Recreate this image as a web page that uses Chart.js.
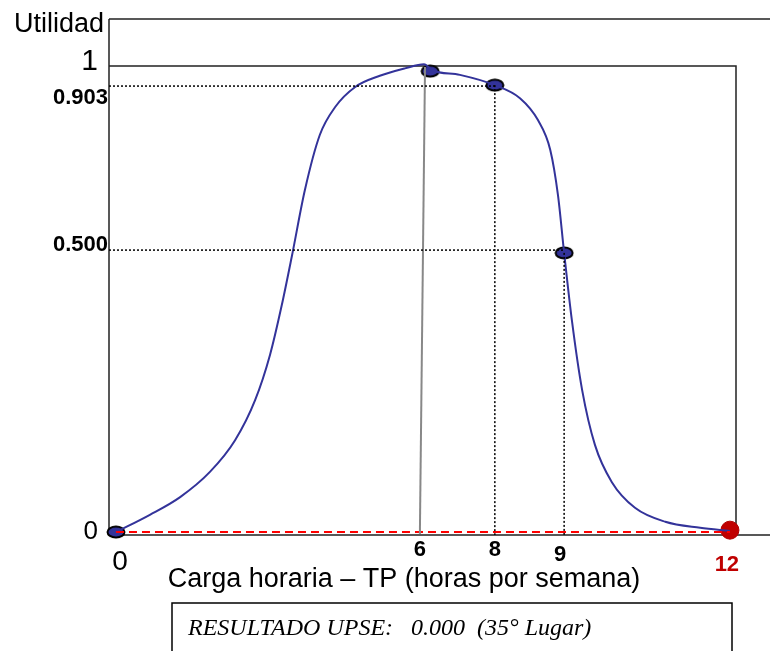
<!DOCTYPE html>
<html>
<head>
<meta charset="utf-8">
<script src="https://cdn.jsdelivr.net/npm/chart.js"></script>
<style>
  body { margin: 0; background: #fff; }
  canvas { display: block; }
</style>
</head>
<body>
<canvas id="utilChart" width="770" height="651"></canvas>
<script>
// curve (x in picture axis units, y utility units)
const curveX = [0, 0.66, 1.25, 1.83, 2.32, 2.71, 3.0, 3.23, 3.43, 3.68, 3.97, 4.27, 4.66, 5.14, 5.63, 6.0,
                6.16, 6.7, 7.38, 7.87, 8.22, 8.46, 8.61, 8.73, 8.88, 9.08, 9.33, 9.66, 10.11, 10.7, 11.38, 11.96];
const curveY = [0, 0.037, 0.075, 0.129, 0.197, 0.283, 0.38, 0.487, 0.594, 0.734, 0.852, 0.912, 0.955, 0.979, 0.995, 1.004,
                0.991, 0.981, 0.959, 0.931, 0.884, 0.82, 0.723, 0.599, 0.455, 0.305, 0.187, 0.107, 0.052, 0.022, 0.009, 0.002];

// marked points on the curve
const markX = [0, 6.12, 7.38, 8.73];
const markY = [0, 0.989, 0.959, 0.599];

// result point (UPSE)
const resultX = [11.96];
const resultY = [0.004];

// tick labels and where they sit on the axes
const xTickLabels = ['0', '6', '8', '9', '12'];
const xTickPos = [0.08, 5.92, 7.38, 8.65, 11.9];
const yTickLabels = ['0', '0.500', '0.903', '1'];
const yTickPos = [0, 0.616, 0.931, 1.009];

// guide lines
const peakLineX = [5.92, 6.02];
const peakLineY = [-0.004, 0.998];
const guide903 = 0.957;
const guide500 = 0.605;

const pts = (xs, ys) => xs.map((x, i) => ({ x: x, y: ys[i] }));

const ell = document.createElement('canvas');
ell.width = 20; ell.height = 14;
const ec = ell.getContext('2d');
ec.beginPath();
ec.ellipse(10, 7, 8.5, 5.5, 0, 0, Math.PI * 2);
ec.fillStyle = '#33339a';
ec.fill();
ec.lineWidth = 2;
ec.strokeStyle = '#000';
ec.stroke();

const dotted = { borderColor: '#000', borderWidth: 1.5, borderDash: [2, 2], pointRadius: 0, fill: false };
const sans = '"Liberation Sans", Arial';

const framePlugin = {
  id: 'frame',
  beforeDatasetsDraw(chart) {
    const c = chart.ctx, x = chart.scales.x, y = chart.scales.y;
    const L = x.getPixelForValue(-0.136), R = x.getPixelForValue(12.078);
    const T = y.getPixelForValue(1.1009), B = y.getPixelForValue(-0.0064);
    const one = y.getPixelForValue(1);
    c.save();
    c.strokeStyle = '#222';
    c.lineWidth = 1.5;
    c.beginPath();
    c.moveTo(L, T); c.lineTo(770, T);
    c.moveTo(L, T); c.lineTo(L, B); c.lineTo(770, B);
    c.moveTo(L, one); c.lineTo(R, one); c.lineTo(R, B);
    c.stroke();
    c.restore();
  },
  afterDatasetsDraw(chart) {
    const c = chart.ctx, x = chart.scales.x, y = chart.scales.y;
    c.save();
    c.fillStyle = '#000';
    c.textBaseline = 'middle';
    // y axis
    c.textAlign = 'right';
    c.font = '27px ' + sans;
    c.fillText('Utilidad', 104, 25);
    yTickLabels.forEach((t, i) => {
      const py = y.getPixelForValue(yTickPos[i]);
      if (t.length > 1) {
        c.font = 'bold 22px ' + sans;
        c.fillText(t, 108, py);
      } else {
        c.font = (t === '1' ? '30px ' : '26px ') + sans;
        c.fillText(t, 98, py);
      }
    });
    // x axis
    c.textAlign = 'center';
    xTickLabels.forEach((t, i) => {
      const px = x.getPixelForValue(xTickPos[i]);
      if (t === '0') {
        c.font = '28px ' + sans;
        c.fillText(t, px, 562);
      } else if (t === '12') {
        c.font = 'bold 22px ' + sans;
        c.fillStyle = '#c00000';
        c.fillText(t, px, 565);
        c.fillStyle = '#000';
      } else {
        c.font = 'bold 22px ' + sans;
        c.fillText(t, px, t === '9' ? 555 : 550);
      }
    });
    c.font = '27px ' + sans;
    c.fillText('Carga horaria \u2013 TP (horas por semana)', 404, 580);
    // result box
    c.lineWidth = 1.5;
    c.strokeStyle = '#000';
    c.strokeRect(172, 603, 560, 60);
    c.textAlign = 'left';
    c.font = 'italic 24px "Liberation Serif", serif';
    c.fillText('RESULTADO UPSE:   0.000  (35\u00b0 Lugar)', 188, 629);
    c.restore();
  }
};

new Chart(document.getElementById('utilChart'), {
  type: 'line',
  data: {
    datasets: [
      { data: [{ x: -0.136, y: guide903 }, { x: markX[2], y: guide903 }], ...dotted },
      { data: [{ x: markX[2], y: markY[2] }, { x: markX[2], y: -0.0064 }], ...dotted },
      { data: [{ x: -0.136, y: guide500 }, { x: markX[3], y: guide500 }], ...dotted },
      { data: [{ x: markX[3], y: markY[3] }, { x: markX[3], y: -0.0064 }], ...dotted },
      { data: pts(peakLineX, peakLineY), borderColor: '#888', borderWidth: 2, pointRadius: 0 },
      { data: [{ x: 0, y: 0 }, { x: resultX[0], y: 0 }], borderColor: '#ff0000', borderWidth: 2, borderDash: [8, 5], pointRadius: 0 },
      { data: pts(curveX, curveY), borderColor: '#33339a', borderWidth: 2, pointRadius: 0, cubicInterpolationMode: 'monotone' },
      { data: pts(markX, markY), showLine: false, pointStyle: ell, pointRadius: 9 },
      { data: pts(resultX, resultY), showLine: false, pointRadius: 9, backgroundColor: '#c00000', borderColor: '#b00000', borderWidth: 1 }
    ]
  },
  options: {
    responsive: false,
    animation: false,
    clip: false,
    layout: { padding: { left: 109, right: 34, top: 19, bottom: 116 } },
    plugins: { legend: { display: false }, tooltip: { enabled: false } },
    scales: {
      x: { type: 'linear', display: false, min: -0.136, max: 12.078 },
      y: { display: false, min: -0.0064, max: 1.1009 }
    }
  },
  plugins: [framePlugin]
});
</script>
</body>
</html>
